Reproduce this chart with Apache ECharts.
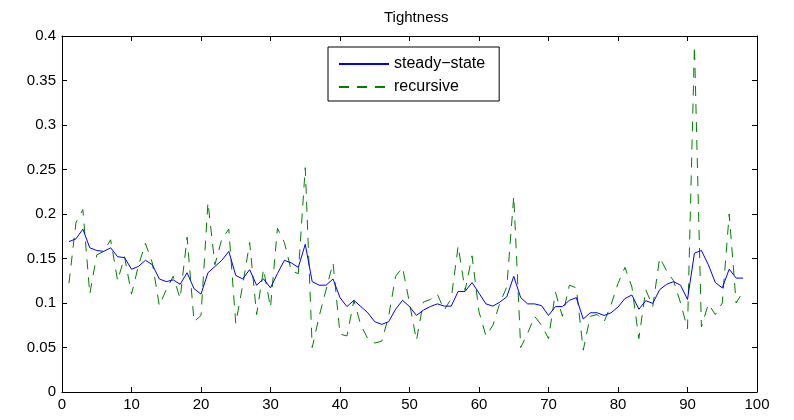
<!DOCTYPE html>
<html><head><meta charset="utf-8">
<script src="https://cdn.jsdelivr.net/npm/echarts@6/dist/echarts.min.js"></script>
<style>html,body{margin:0;padding:0;background:#fff}#c{width:794px;height:420px}</style>
</head><body><div id="c"></div>
<script>
const titleText = 'Tightness';
const seriesNames = ['steady\u2212state', 'recursive'];
const xTickValues = [0, 10, 20, 30, 40, 50, 60, 70, 80, 90, 100];
const yTickValues = [0, 0.05, 0.1, 0.15, 0.2, 0.25, 0.3, 0.35, 0.4];
const periods = [1,2,3,4,5,6,7,8,9,10,11,12,13,14,15,16,17,18,19,20,21,22,23,24,25,26,27,28,29,30,31,32,33,34,35,36,37,38,39,40,41,42,43,44,45,46,47,48,49,50,51,52,53,54,55,56,57,58,59,60,61,62,63,64,65,66,67,68,69,70,71,72,73,74,75,76,77,78,79,80,81,82,83,84,85,86,87,88,89,90,91,92,93,94,95,96,97,98];
const steadyState = [0.169,0.172,0.183,0.162,0.159,0.158,0.162,0.152,0.151,0.138,
  0.141,0.148,0.143,0.127,0.124,0.126,0.121,0.134,0.116,0.110,
  0.134,0.141,0.148,0.158,0.131,0.127,0.1375,0.120,0.127,0.117,
  0.133,0.148,0.145,0.140,0.166,0.124,0.120,0.120,0.127,0.106,
  0.096,0.103,0.096,0.089,0.079,0.076,0.079,0.093,0.103,0.096,
  0.086,0.092,0.096,0.099,0.0965,0.0965,0.113,0.113,0.123,0.111,
  0.099,0.0965,0.101,0.107,0.130,0.106,0.099,0.099,0.097,0.086,
  0.096,0.096,0.103,0.106,0.082,0.089,0.089,0.086,0.089,0.0955,
  0.105,0.109,0.093,0.1026,0.0996,0.115,0.121,0.124,0.120,0.104,
  0.156,0.159,0.143,0.123,0.117,0.138,0.128,0.128];
const recursive = [0.122,0.190,0.205,0.110,0.154,0.158,0.171,0.125,0.152,0.110,
  0.142,0.167,0.145,0.097,0.115,0.130,0.105,0.174,0.079,0.086,
  0.213,0.143,0.172,0.183,0.077,0.120,0.168,0.087,0.138,0.095,
  0.184,0.168,0.136,0.133,0.252,0.050,0.085,0.115,0.145,0.065,
  0.063,0.103,0.075,0.060,0.055,0.057,0.085,0.130,0.140,0.100,
  0.058,0.101,0.104,0.110,0.092,0.105,0.164,0.114,0.153,0.090,
  0.063,0.075,0.100,0.118,0.220,0.050,0.066,0.085,0.075,0.060,
  0.112,0.085,0.120,0.117,0.047,0.085,0.087,0.079,0.098,0.122,
  0.140,0.118,0.060,0.115,0.096,0.151,0.136,0.125,0.100,0.071,
  0.389,0.073,0.099,0.087,0.100,0.200,0.100,0.113];

const FONT = "'Liberation Sans', Arial, Helvetica, sans-serif";
const xMin = xTickValues[0], xMax = xTickValues[xTickValues.length - 1], xInt = xTickValues[1] - xTickValues[0];
const yMin = yTickValues[0], yMax = yTickValues[yTickValues.length - 1], yInt = yTickValues[1] - yTickValues[0];

function axisBase(extra) {
  return Object.assign({
    type: 'value',
    splitLine: { show: false },
    axisLine: { show: true, onZero: false, lineStyle: { color: '#000', width: 1 } },
    axisTick: { show: true, inside: true, length: 5, lineStyle: { color: '#000', width: 1 } },
  }, extra);
}

const chart = echarts.init(document.getElementById('c'), null, { renderer: 'canvas' });
chart.setOption({
  animation: false,
  backgroundColor: '#fff',
  title: {
    text: titleText, left: 379, top: 5,
    textStyle: { fontFamily: FONT, fontSize: 15, fontWeight: 'normal', color: '#000' }
  },
  legend: {
    orient: 'vertical', left: 328, top: 47,
    data: seriesNames,
    backgroundColor: '#fff', borderColor: '#000', borderWidth: 1, borderRadius: 0,
    padding: [9, 14, 6, 10],
    itemWidth: 50, itemHeight: 14, itemGap: 7,
    itemStyle: { opacity: 0, borderWidth: 0 },
    textStyle: { fontFamily: FONT, fontSize: 16, lineHeight: 16, color: '#000' }
  },
  grid: { left: 62, right: 37, top: 36, bottom: 28, containLabel: false },
  xAxis: [
    axisBase({ position: 'bottom', min: xMin, max: xMax, interval: xInt,
      axisLabel: { show: true, margin: 5, color: '#000', fontFamily: FONT, fontSize: 15 } }),
    axisBase({ position: 'top', min: xMin, max: xMax, interval: xInt, axisLabel: { show: false } })
  ],
  yAxis: [
    axisBase({ position: 'left', min: yMin, max: yMax, interval: yInt,
      axisLabel: { show: true, margin: 6, color: '#000', fontFamily: FONT, fontSize: 15,
        formatter: v => String(+v.toFixed(2)) } }),
    axisBase({ position: 'right', min: yMin, max: yMax, interval: yInt, axisLabel: { show: false } })
  ],
  series: [
    { name: seriesNames[0], type: 'line', xAxisIndex: 0, yAxisIndex: 0,
      data: periods.map((p, i) => [p, steadyState[i]]),
      symbol: 'none', showSymbol: false, z: 3,
      lineStyle: { color: '#0000ff', width: 1 }, itemStyle: { color: '#0000ff' } },
    { name: seriesNames[1], type: 'line', xAxisIndex: 0, yAxisIndex: 0,
      data: periods.map((p, i) => [p, recursive[i]]),
      symbol: 'none', showSymbol: false, z: 2,
      lineStyle: { color: '#008000', width: 1, type: [10, 8] }, itemStyle: { color: '#008000' } }
  ]
});
</script>
</body></html>
